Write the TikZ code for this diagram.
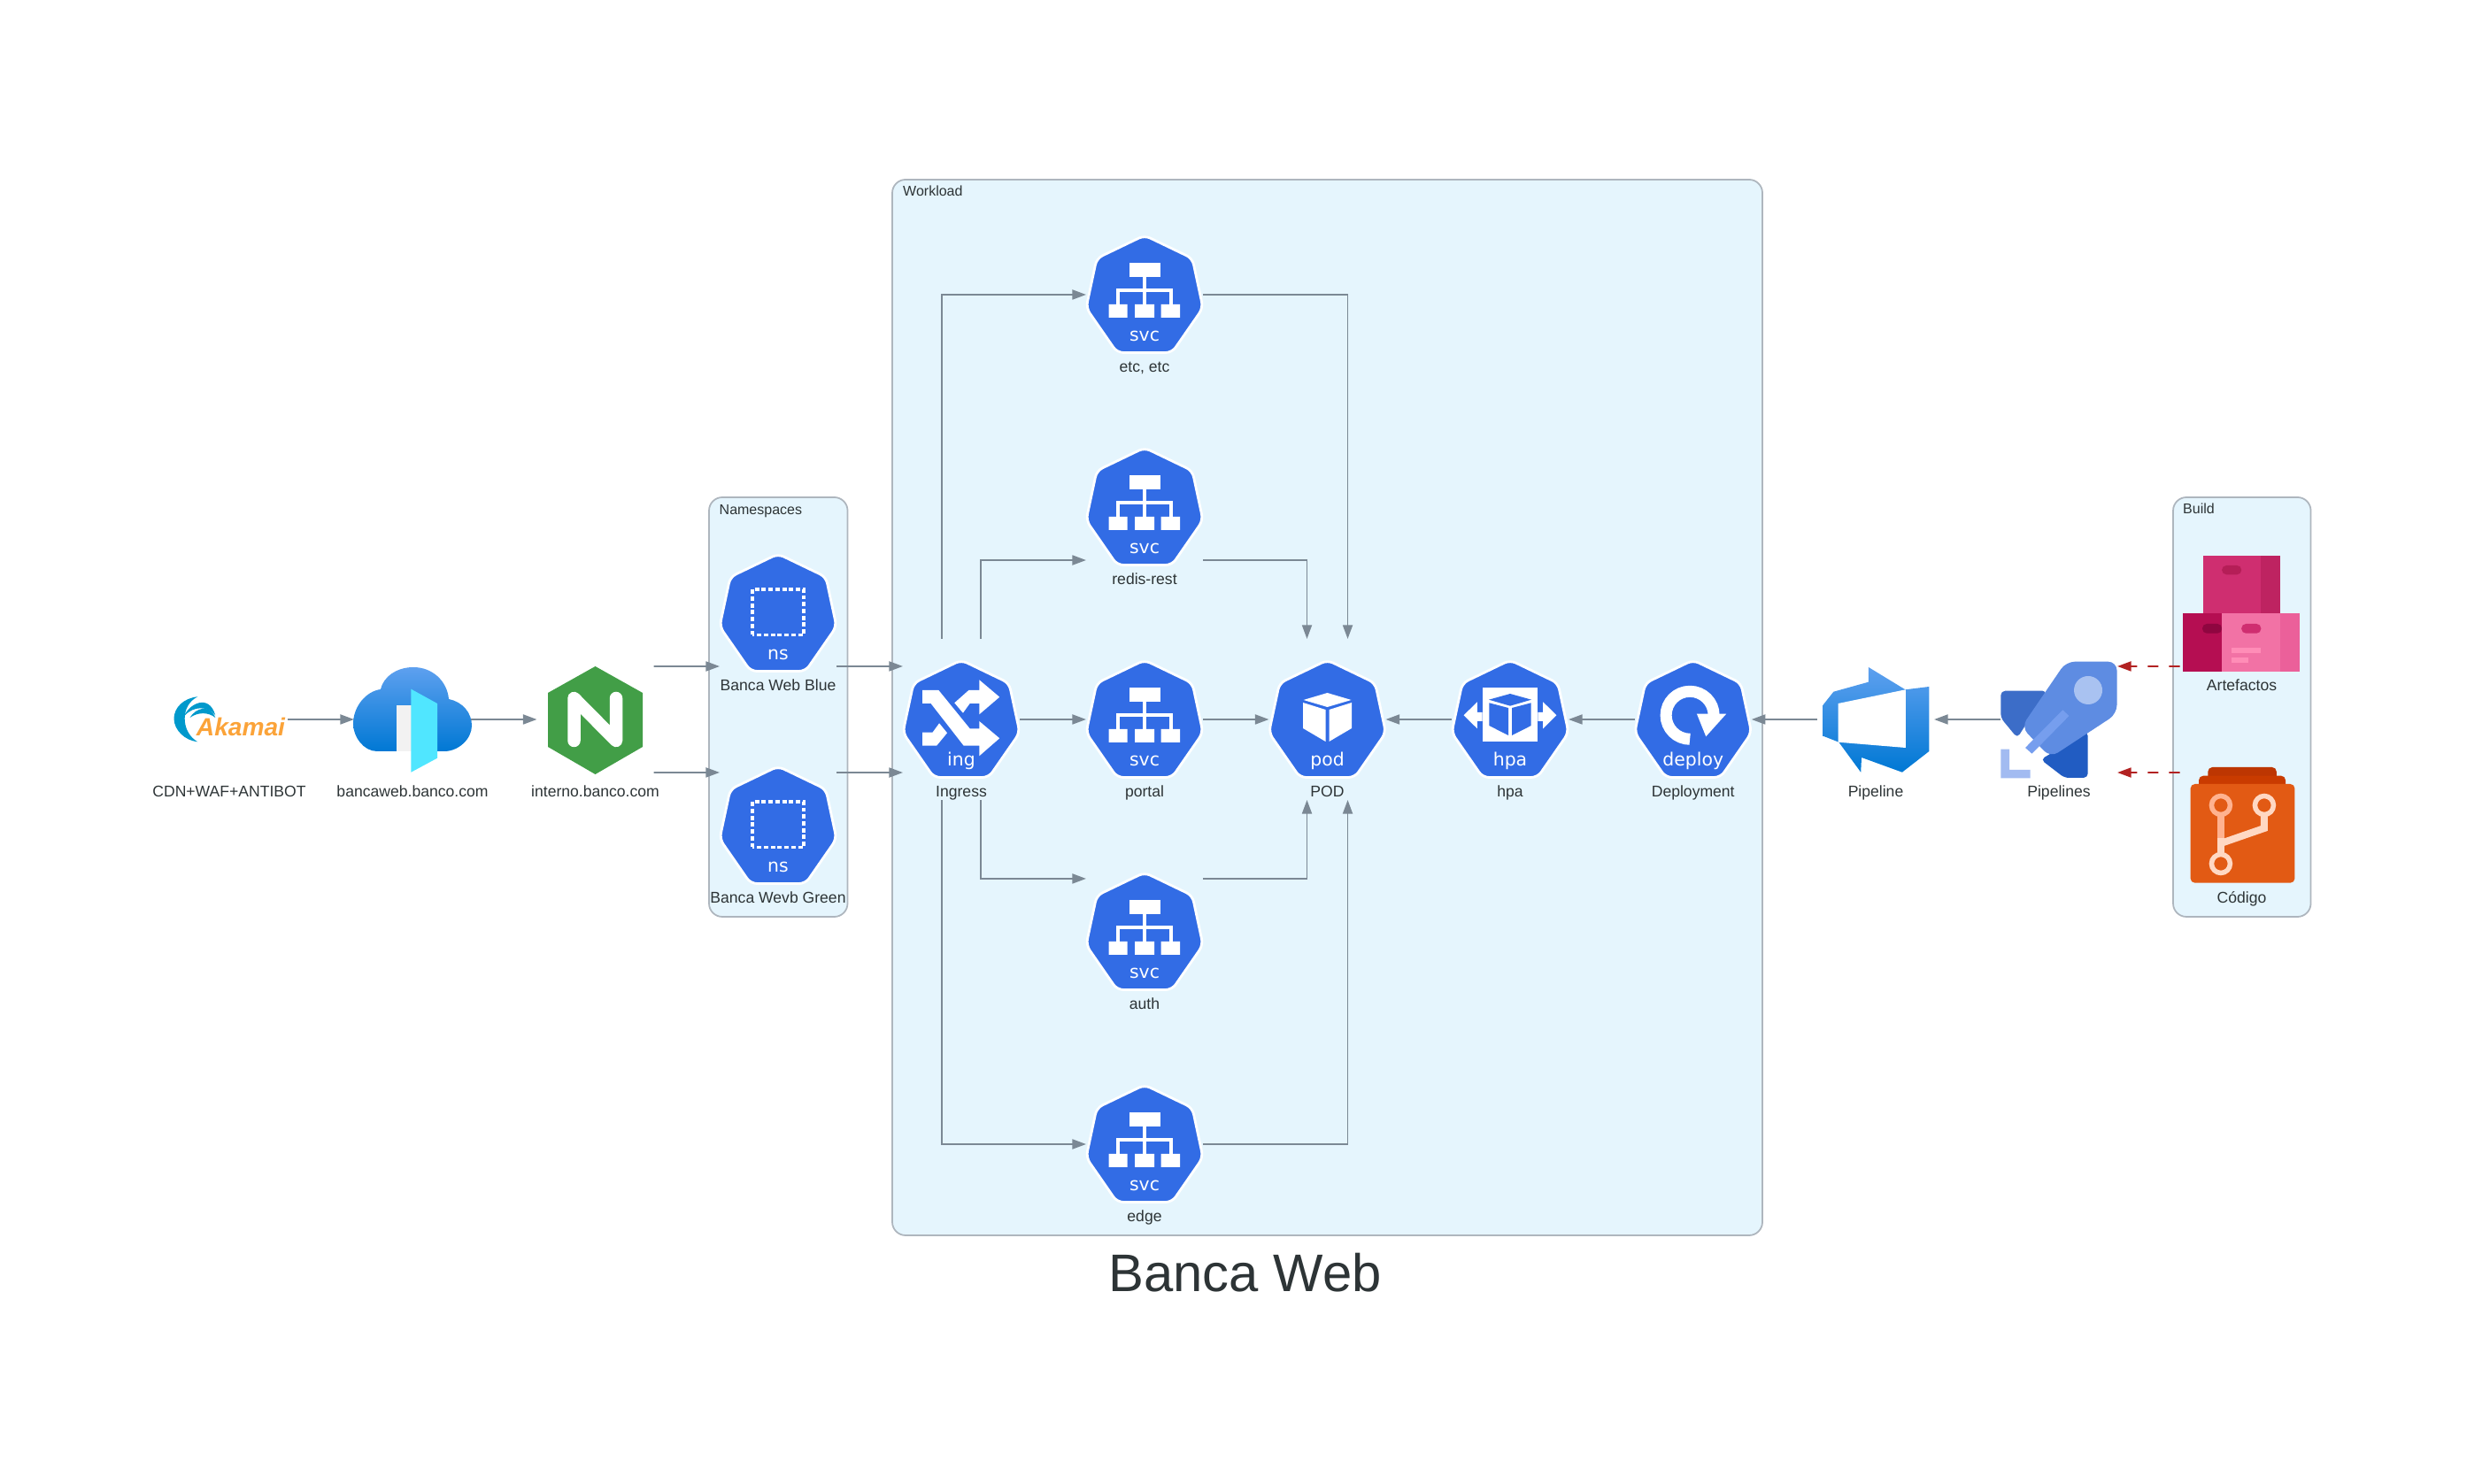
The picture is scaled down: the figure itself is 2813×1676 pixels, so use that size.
\documentclass[tikz,border=0pt]{standalone}
\usepackage{fontspec}
\setmainfont{Liberation Sans}
\newfontfamily\kubefont{DejaVu Sans}
\usetikzlibrary{calc,arrows.meta}

\definecolor{kubeblue}{HTML}{326CE5}
\definecolor{inktext}{HTML}{2D3436}
\definecolor{edgegray}{HTML}{7B8894}
\definecolor{clusterbg}{HTML}{E5F5FD}
\definecolor{clusterline}{HTML}{AEB6BE}
\definecolor{edgered}{HTML}{B22222}
\definecolor{azuretop}{HTML}{5EA0EF}
\definecolor{azurebot}{HTML}{0078D4}
\definecolor{akablue}{HTML}{0099CC}
\definecolor{akaorange}{HTML}{FBA339}
\definecolor{doorcyan}{HTML}{50E6FF}
\definecolor{doorgray}{HTML}{F2F2F2}
\definecolor{nginxgreen}{HTML}{429E47}
\definecolor{rocketfin}{HTML}{3C6DC8}
\definecolor{rocketlow}{HTML}{215CC2}
\definecolor{rocketbody}{HTML}{5E8CE2}
\definecolor{rocketglass}{HTML}{A9C2F1}
\definecolor{rocketstripe}{HTML}{769EEE}
\definecolor{rocketmark}{HTML}{A2BBF1}
\definecolor{boxrose}{HTML}{CF2E70}
\definecolor{boxroseside}{HTML}{BE2361}
\definecolor{boxrosepill}{HTML}{B51E57}
\definecolor{boxdeep}{HTML}{B50E52}
\definecolor{boxdeeppill}{HTML}{8F0640}
\definecolor{boxpink}{HTML}{F272A5}
\definecolor{boxpinkside}{HTML}{EB609A}
\definecolor{boxpinkline}{HTML}{FF8DB7}
\definecolor{repoback}{HTML}{BD3602}
\definecolor{repomid}{HTML}{C93B00}
\definecolor{repofront}{HTML}{E25A14}
\definecolor{branchdim}{HTML}{FFB28F}
\definecolor{branchlit}{HTML}{FFD8C3}

\tikzset{
  hit/.style={minimum width=1.32cm,minimum height=1.82cm,inner sep=0pt,outer sep=0pt},
  lbl/.style={text=inktext,font=\fontsize{5}{6}\selectfont,inner sep=0pt,anchor=base},
  grouplbl/.style={text=inktext,font=\fontsize{4.55}{5}\selectfont,inner sep=0pt,anchor=base west},
  kubetxt/.style={text=white,font=\kubefont\fontsize{5.8}{7}\selectfont,inner sep=0pt,anchor=base},
  cluster/.style={fill=clusterbg,draw=clusterline,line width=0.5pt,rounded corners=0.15cm},
  link/.style={draw=edgegray,line width=0.5pt,-{Triangle[length=0.155cm,width=0.11cm]}},
  buildlink/.style={draw=edgered,line width=0.5pt,dash pattern=on 0.12cm off 0.12cm,
    -{Triangle[length=0.155cm,width=0.11cm]}},
  pics/kube/.style={code={
    \filldraw[fill=kubeblue,draw=white,line width=0.8pt,rounded corners=0.07cm,line join=round]
      (0,67)--(54,41)--(66,-15)--(31,-65.5)--(-31,-65.5)--(-66,-15)--(-54,41)--cycle;
    \node[kubetxt] (kubetext) at (0,-53) {#1};
  }},
  pics/svcicon/.style={code={
    \fill[white] (-17.5,20) rectangle (17.5,36);
    \fill[white] (-40.5,-26) rectangle (-19.5,-11) (-11,-26) rectangle (11,-11) (18.5,-26) rectangle (40,-11);
    \draw[white,line width=1pt] (0,20)--(0,-11) (-30,-11)--(-30,5)--(30,5)--(30,-11);
  }},
  pics/nsicon/.style={code={
    \draw[white,line width=0.9pt,dash pattern=on 1.4pt off 0.8pt] (-29,-24.5) rectangle (29,27);
  }},
  pics/podicon/.style={code={
    \fill[white] (0,30)--(27,22)--(0,14)--(-27,22)--cycle;
    \fill[white] (-27.5,19)--(-2,11)--(-2,-25)--(-27.5,-10)--cycle;
    \fill[white] (27.5,19)--(2,11)--(2,-25)--(27.5,-10)--cycle;
  }},
  pics/ingicon/.style={code={
    \fill[white] (-44,33)--(-25.6,33)--(9.6,-10.3)--(20.3,-10.3)--(20.3,-2)--(43.2,-21.3)--(20.3,-41.3)
      --(20.3,-29.7)--(2.7,-29.7)--(-34.4,18)--(-44,18)--cycle;
    \fill[white] (-7.7,18.7)--(8.4,33)--(20.3,33)--(20.3,44.7)--(43.2,25.3)--(20.3,5.7)--(20.3,18)
      --(9.6,18)--(1.9,7.3)--cycle;
    \fill[white] (-44,-14.7)--(-32.5,-14.7)--(-24.9,-4.3)--(-16,-15.3)--(-27.9,-29.7)--(-44,-29.7)--cycle;
  }},
  pics/hpaicon/.style={code={
    \fill[white] (-31.4,-25.3) rectangle (31.4,35.7);
    \fill[white] (-31.4,8)--(-37.2,8)--(-37.2,19.7)--(-52.4,4.7)--(-37.2,-10.3)--(-37.2,-2)--(-31.4,-2)--cycle;
    \fill[white] (31.4,8)--(37.2,8)--(37.2,19.7)--(52.4,4.7)--(37.2,-10.3)--(37.2,-2)--(31.4,-2)--cycle;
    \fill[kubeblue] (0,29)--(24,22.3)--(0,15.3)--(-24,22.3)--cycle;
    \fill[kubeblue] (-23.7,18.7)--(-2,13)--(-2,-18)--(-23.7,-7)--cycle;
    \fill[kubeblue] (23.7,18.7)--(2,13)--(2,-18)--(23.7,-7)--cycle;
  }},
  pics/deployicon/.style={code={
    \draw[white,line width=0.13cm] (-3.6,-22.3) arc[start angle=-90,end angle=-360,radius=27];
    \fill[white] (4.2,6.3)--(37.5,6.3)--(14.5,-19.3)--cycle;
  }},
}

\begin{document}
\begin{tikzpicture}[x=0.01cm,y=0.01cm]
  \useasboundingbox (0,0) rectangle (2813,1676);

  % groups
  \draw[cluster] (1008,280) rectangle (1991,1473);
  \draw[cluster] (801,640) rectangle (957.5,1114);
  \draw[cluster] (2455,640) rectangle (2610.5,1114);
  \node[grouplbl] (workloadlbl) at (1019.5,1454) {Workload};
  \node[grouplbl] (namespaceslbl) at (812,1094.5) {Namespaces};
  \node[grouplbl] (buildlbl) at (2465.5,1095) {Build};

  % akamai
  \node[hit] (akamai) at (259,863) {};
  \begin{scope}[shift={(akamai.center)}]
    \fill[akablue] (-35.7,25.7) .. controls (-52,24) and (-62.5,13) .. (-62.5,1)
      .. controls (-62.5,-12) and (-50,-24) .. (-35.7,-25.3)
      .. controls (-45,-20) and (-50.3,-10) .. (-50.3,1)
      .. controls (-50.3,12) and (-45,21) .. (-35.7,25.7);
    \fill[akablue] (-51,3.7) .. controls (-46,17) and (-23,30) .. (-15.7,4.7)
      .. controls (-24,15) and (-40,16) .. (-51,3.7);
    \fill[akablue] (-44.5,2) .. controls (-38,13) and (-22,18) .. (-15.7,2)
      .. controls (-24,8.5) and (-35,8.5) .. (-44.5,2);
    \node[text=akaorange,inner sep=0pt,anchor=base,font=\fontsize{8}{9}\selectfont\bfseries\itshape]
      (akamaiword) at (13,-18.7) {Akamai};
  \end{scope}

  % azure front door
  \node[hit] (banca) at (466,863) {};
  \begin{scope}[shift={(banca.center)}]
    \shade[top color=azuretop,bottom color=azurebot] (-40,-36)
      .. controls (-55,-36) and (-67,-20) .. (-67,-5)
      .. controls (-67,15) and (-52,32) .. (-36,34)
      .. controls (-33,48) and (-18,59) .. (1,59)
      .. controls (22,59) and (39,44) .. (41,23)
      .. controls (56,20) and (67,8) .. (67,-7)
      .. controls (67,-22) and (52,-36) .. (36,-36) -- cycle;
    \fill[doorgray] (-18,-36) rectangle (0,16);
    \fill[doorcyan] (-1.6,34.3)--(28,18)--(28,-43.7)--(-1.6,-59.7)--cycle;
  \end{scope}

  % nginx
  \node[hit] (interno) at (672.5,863) {};
  \begin{scope}[shift={(interno.center)}]
    \fill[nginxgreen] (0,60)--(53.5,30)--(53.5,-31)--(0,-62)--(-53.5,-31)--(-53.5,30)--cycle;
    \draw[white,line width=0.145cm,line cap=round,line join=round] (-24,-24)--(-24,24)--(23.5,-24)--(23.5,24);
  \end{scope}

  \node[lbl] (akamaitxt) at ([yshift=-.87cm]akamai.center) {CDN+WAF+ANTIBOT};
  \node[lbl] (bancatxt) at ([yshift=-.87cm]banca.center) {bancaweb.banco.com};
  \node[lbl] (internotxt) at ([yshift=-.87cm]interno.center) {interno.banco.com};

  % namespaces
  \foreach \n/\y/\t in {nsblue/983/Banca Web Blue,nsgreen/743/Banca Wevb Green}{
    \node[hit] (\n) at (879,\y) {};
    \pic at (\n.center) {kube=ns};
    \pic at (\n.center) {nsicon};
    \node[lbl] (\n txt) at ([yshift=-.87cm]\n.center) {\t};
  }

  % services
  \foreach \n/\y/\t in {etc/1343/{etc, etc},redis/1103/redis-rest,portal/863/portal,auth/623/auth,edge/383/edge}{
    \node[hit] (\n) at (1293,\y) {};
    \pic at (\n.center) {kube=svc};
    \pic at (\n.center) {svcicon};
    \node[lbl] (\n txt) at ([yshift=-.87cm]\n.center) {\t};
  }

  \node[hit] (ing) at (1086,863) {};
  \pic at (ing.center) {kube=ing};
  \pic at (ing.center) {ingicon};
  \node[lbl] (ingtxt) at ([yshift=-.87cm]ing.center) {Ingress};

  \node[hit] (pod) at (1499.5,863) {};
  \pic at (pod.center) {kube=pod};
  \pic at (pod.center) {podicon};
  \node[lbl] (podtxt) at ([yshift=-.87cm]pod.center) {POD};

  \node[hit] (hpa) at (1706,863) {};
  \pic at (hpa.center) {kube=hpa};
  \pic at (hpa.center) {hpaicon};
  \node[lbl] (hpatxt) at ([yshift=-.87cm]hpa.center) {hpa};

  \node[hit] (deploy) at (1912.7,863) {};
  \pic at (deploy.center) {kube=deploy};
  \pic at (deploy.center) {deployicon};
  \node[lbl] (deploytxt) at ([yshift=-.87cm]deploy.center) {Deployment};

  % azure devops pipeline
  \node[hit] (pipeline) at (2119,863) {};
  \begin{scope}[shift={(pipeline.center)}]
    \shade[top color=azuretop,bottom color=azurebot] (-8.1,59)--(33.4,33.7)--(60.3,37)--(60.3,-36)--(29.9,-59.7)
      --(-16,-43)--(-16.8,-59.7)--(-41.7,-25.7)--(-59.5,-18.7)--(-59.5,16.3)--(-47.6,31.3)--(-8.1,42.3)--cycle;
    \fill[white] (-42.5,18)--(33.8,33.7)--(33.8,-32)--(-42.5,-25.7)--cycle;
  \end{scope}
  \node[lbl] (pipelinetxt) at ([yshift=-.87cm]pipeline.center) {Pipeline};

  % rocket
  \node[hit] (pipelines) at (2326,863) {};
  \begin{scope}[shift={(pipelines.center)}]
    \fill[rocketfin,rounded corners=0.05cm] (-65.7,32.3)--(-13.5,32.3)--(-47,-21)--(-65.7,1.7)--cycle;
    \fill[rocketlow,rounded corners=0.05cm] (32.7,-13.7)--(32.7,-66)--(6.3,-66)--(-20.6,-45.3)--cycle;
    \fill[rocketbody,rounded corners=0.1cm] (65.5,65.3)--(8,65.3)--(-42.4,-8.7)--(-9.6,-43)--(65.5,6.3)--cycle;
    \fill[rocketglass] (33,33) circle (16);
    \fill[rocketstripe] (4.3,10.7)--(11.4,4)--(-30.5,-38.7)--(-38,-32)--cycle;
    \fill[rocketmark] (-65.7,-33.7)--(-55.8,-33.7)--(-55.8,-57)--(-32.5,-57)--(-32.5,-66.3)--(-65.7,-66.3)--cycle;
  \end{scope}
  \node[lbl] (pipelinestxt) at ([yshift=-.87cm]pipelines.center) {Pipelines};

  % artefactos
  \node[hit] (artefactos) at (2532.5,983) {};
  \begin{scope}[shift={(artefactos.center)}]
    \fill[boxrose] (-43.7,-1) rectangle (21.8,65.3);
    \fill[boxroseside] (21.8,-1) rectangle (43.2,65.3);
    \fill[boxrosepill,rounded corners=0.05cm] (-22.4,43.7) rectangle (-0.3,54);
    \fill[boxdeep] (-66.3,-66.3) rectangle (-18.4,-0.3);
    \fill[boxdeeppill,rounded corners=0.05cm] (-44.5,-22.7) rectangle (-22.4,-12);
    \fill[boxpink] (-22.4,-66.3) rectangle (43.2,-0.3);
    \fill[boxpinkside] (43.2,-66.3) rectangle (65.4,-0.3);
    \fill[boxrose,rounded corners=0.05cm] (-0.3,-22.7) rectangle (21.8,-12);
    \fill[boxpinkline] (-11.3,-44.7) rectangle (21.5,-39.3);
    \fill[boxpinkline] (-11.3,-56) rectangle (7.3,-50.3);
  \end{scope}
  \node[lbl] (artefactostxt) at ([yshift=-.87cm]artefactos.center) {Artefactos};

  % codigo
  \node[hit] (codigo) at (2532.5,743) {};
  \begin{scope}[shift={(codigo.center)}]
    \fill[repoback,rounded corners=0.05cm] (-38.2,30) rectangle (39.3,66);
    \fill[repomid,rounded corners=0.05cm] (-48.5,30) rectangle (49.5,56.3);
    \fill[repofront,rounded corners=0.05cm] (-57.9,-64.7) rectangle (59.9,47);
    \draw[branchdim,line width=0.08cm] (-23.6,12)--(-23.6,-14);
    \draw[branchlit,line width=0.08cm] (-23.6,-14)--(-23.6,-32);
    \draw[branchlit,line width=0.08cm] (25.4,12)--(25.4,-3)--(-23.6,-20);
    \draw[branchdim,line width=0.055cm] (-23.6,23) circle (10.5);
    \draw[branchlit,line width=0.055cm] (25.4,23) circle (10.5);
    \draw[branchlit,line width=0.055cm] (-23.6,-43) circle (10.5);
  \end{scope}
  \node[lbl] (codigotxt) at ([yshift=-.87cm]codigo.center) {Código};

  % connectors
  \draw[link] (akamai)--(banca);
  \draw[link] (banca)--(interno);
  \draw[link] ([yshift=.6cm]interno.east)--([yshift=-.6cm]nsblue.west);
  \draw[link] ([yshift=-.6cm]interno.east)--([yshift=.6cm]nsgreen.west);
  \draw[link] ([yshift=-.6cm]nsblue.east)--([yshift=.6cm]ing.west);
  \draw[link] ([yshift=.6cm]nsgreen.east)--([yshift=-.6cm]ing.west);
  \draw[link] (ing)--(portal);
  \draw[link] ([xshift=-.22cm]ing.north) |- (etc.west);
  \draw[link] ([xshift=.22cm]ing.north) |- ([yshift=-.6cm]redis.west);
  \draw[link] ([xshift=.22cm]ing.south) |- ([yshift=.6cm]auth.west);
  \draw[link] ([xshift=-.22cm]ing.south) |- (edge.west);
  \draw[link] (portal)--(pod);
  \draw[link] (etc.east) -| ([xshift=.23cm]pod.north);
  \draw[link] ([yshift=-.6cm]redis.east) -| ([xshift=-.23cm]pod.north);
  \draw[link] ([yshift=.6cm]auth.east) -| ([xshift=-.23cm]pod.south);
  \draw[link] (edge.east) -| ([xshift=.23cm]pod.south);
  \draw[link] (hpa)--(pod);
  \draw[link] (deploy)--(hpa);
  \draw[link] (pipeline)--(deploy);
  \draw[link] (pipelines)--(pipeline);
  \draw[buildlink] ([xshift=-.04cm,yshift=-.6cm]artefactos.west)--([yshift=.6cm]pipelines.east);
  \draw[buildlink] ([xshift=-.04cm,yshift=.6cm]codigo.west)--([yshift=-.6cm]pipelines.east);

  \node[text=inktext,inner sep=0pt,anchor=base,font=\fontsize{17}{20}\selectfont] (title) at (1406.5,216) {Banca Web};
\end{tikzpicture}
\end{document}
